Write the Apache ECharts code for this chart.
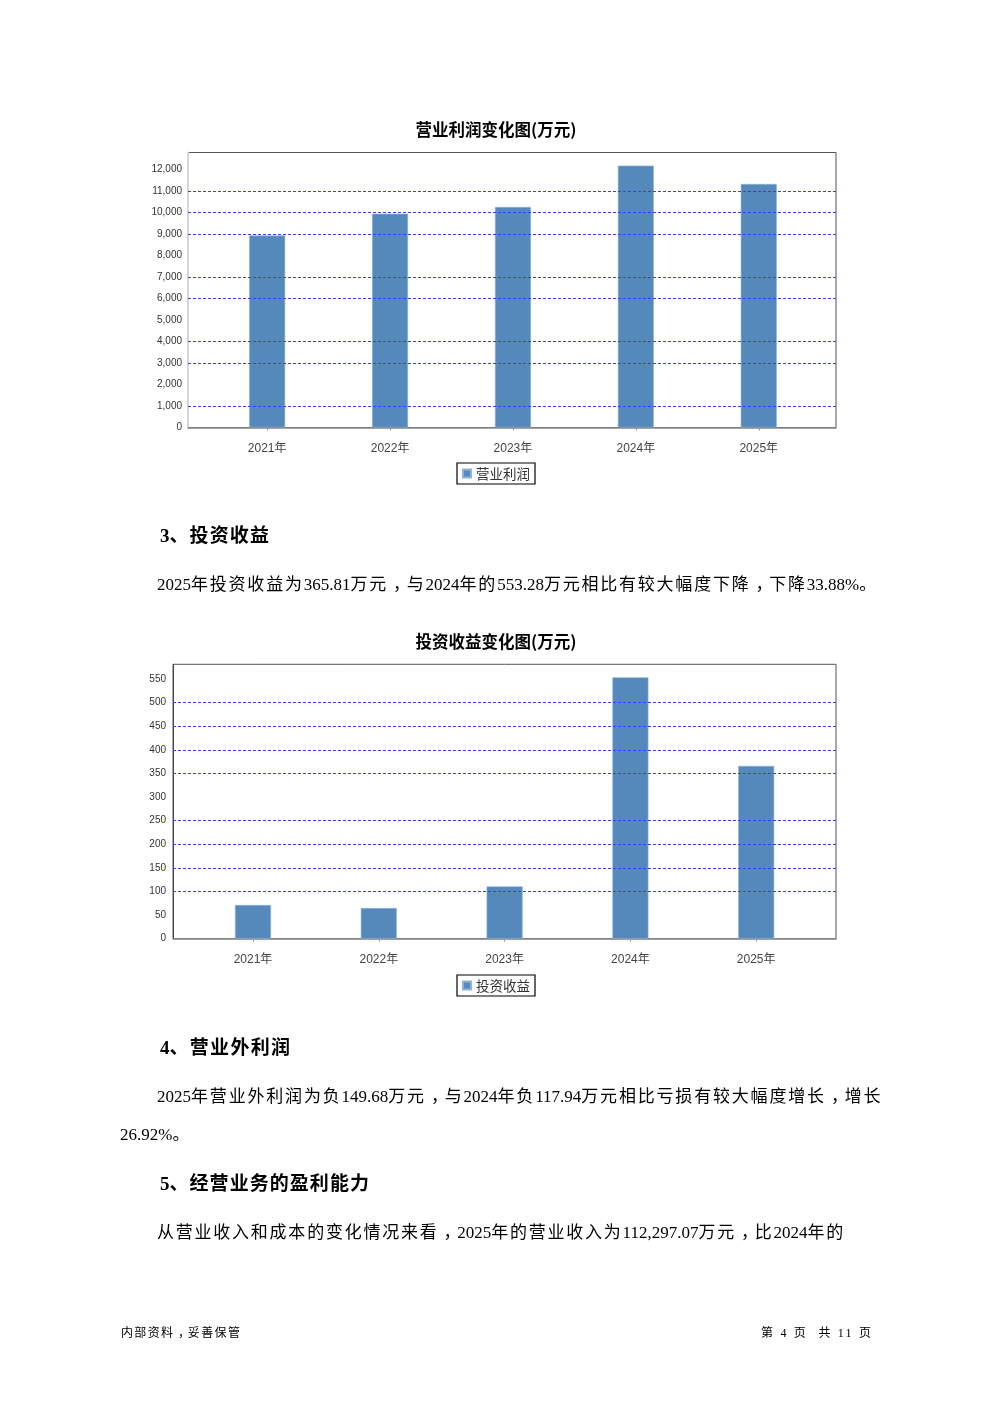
<!DOCTYPE html>
<html>
<head>
<meta charset="utf-8">
<script src="https://cdn.jsdelivr.net/npm/echarts@6/dist/echarts.min.js"></script>
<style>
html,body{margin:0;padding:0;background:#fff;}
#page{position:relative;width:992px;height:1403px;overflow:hidden;background:#fff;}
#chart{position:absolute;left:0;top:0;width:992px;height:1403px;}
.t{position:absolute;white-space:nowrap;color:#000;font-family:"Liberation Serif","Noto Sans CJK SC",serif;line-height:24px;height:24px;}
.p{font-size:17px;}
.h{font-size:19px;font-weight:bold;}
.f{font-size:12px;line-height:16px;height:16px;}
.cm{display:inline-block;transform:translateX(0.3em);}
</style>
</head>
<body>
<div id="page">
<div id="chart"></div>
<div class="t h" data-l="160" data-r="269" data-cy="536">3、投资收益</div>
<div class="t p" data-l="157" data-r="876" data-cy="585">2025年投资收益为365.81万元，与2024年的553.28万元相比有较大幅度下降，下降33.88%。</div>
<div class="t h" data-l="160" data-r="290" data-cy="1048">4、营业外利润</div>
<div class="t p" data-l="157" data-r="880" data-cy="1097">2025年营业外利润为负149.68万元，与2024年负117.94万元相比亏损有较大幅度增长，增长</div>
<div class="t p" data-l="120" data-r="188" data-cy="1135">26.92%。</div>
<div class="t h" data-l="160" data-r="369" data-cy="1184">5、经营业务的盈利能力</div>
<div class="t p" data-l="157" data-r="843" data-cy="1233">从营业收入和成本的变化情况来看，2025年的营业收入为112,297.07万元，比2024年的</div>
<div class="t f" data-l="121" data-r="240" data-cy="1333">内部资料，妥善保管</div>
<div class="t f" data-even="1" data-l="761" data-r="871" data-cy="1333">第 4 页 &nbsp;共 11 页</div>
</div>
<script>
// ---- data ----
var categories = ['2021年', '2022年', '2023年', '2024年', '2025年'];
var opProfitName = '营业利润';
var opProfit = [8937, 9949, 10261, 12190, 11334];
var opGridVisible = [1000, 3000, 4000, 6000, 7000, 9000, 10000, 11000];
var invIncomeName = '投资收益';
var invIncome = [71.3, 64.9, 110.8, 553.28, 365.81];
var invGridVisible = [100, 150, 200, 250, 350, 400, 450, 500];
var titles = ['营业利润变化图(万元)', '投资收益变化图(万元)'];

// ---- text layout: split into CJK chars and Latin runs, spread extra space over CJK chars ----
function splitRuns(el) {
  if (el.dataset.even) return;
  var txt = el.textContent;
  el.textContent = '';
  var chars = Array.from(txt);
  var buf = '';
  function flush() {
    if (buf) { var s = document.createElement('span'); s.className = 'lat'; s.textContent = buf; el.appendChild(s); buf = ''; }
  }
  chars.forEach(function (ch) {
    if (ch.charCodeAt(0) >= 0x2E80) {
      flush();
      var s = document.createElement('span');
      s.className = 'cjk' + (ch === '，' ? ' cm' : '');
      s.textContent = ch;
      el.appendChild(s);
    } else {
      buf += ch;
    }
  });
  flush();
}
function fitText() {
  document.querySelectorAll('.t').forEach(function (el) {
    var l = +el.dataset.l, r = +el.dataset.r, cy = +el.dataset.cy;
    el.style.left = l + 'px';
    var h = el.getBoundingClientRect().height;
    el.style.top = (cy - h / 2) + 'px';
    if (el.dataset.even) {
      el.style.letterSpacing = '0px';
      var w0 = el.getBoundingClientRect().width;
      var n = Array.from(el.textContent).length;
      if (n > 1) el.style.letterSpacing = ((r - l - w0) / (n - 1)) + 'px';
      return;
    }
    var cjk = Array.from(el.querySelectorAll('.cjk'));
    cjk.forEach(function (s) { s.style.letterSpacing = '0px'; });
    var w = el.getBoundingClientRect().width;
    var spread = cjk.filter(function (s) { return s !== el.lastChild; });
    if (spread.length) {
      var ls = (r - l - w) / spread.length;
      spread.forEach(function (s) { s.style.letterSpacing = ls + 'px'; });
    }
  });
}
document.querySelectorAll('.t').forEach(splitRuns);
fitText();
if (document.fonts && document.fonts.ready) document.fonts.ready.then(fitText);

// ---- chart ----
var chart = echarts.init(document.getElementById('chart'), null, {renderer: 'canvas'});
var barColor = '#5589BC';
var gridColor = '#3b3bff';
var labelFont = '"Liberation Sans", "Noto Sans CJK SC", sans-serif';

var c1 = {frameL: 188, frameW: 648, top: 152.5, h: 275, barL: 205.7, barW: 614.5};
var c2 = {frameL: 173, frameW: 663, top: 664.3, h: 274.4, barL: 190.1, barW: 629};

function makeCoords(c, idx, maxV, interval, leftLine, labelMargin) {
  var grids = [
    {left: c.frameL, top: c.top, width: c.frameW, height: c.h, show: true, borderColor: '#555', borderWidth: 1, backgroundColor: 'transparent'},
    {left: c.barL, top: c.top, width: c.barW, height: c.h, show: false}
  ];
  var xAxes = [
    {gridIndex: idx * 2, type: 'category', data: categories, position: 'bottom', offset: 9,
     axisLine: {show: true, lineStyle: {color: '#8a8a8a', width: 1.5}}, axisTick: {show: false}, axisLabel: {show: false}, splitLine: {show: false}},
    {gridIndex: idx * 2 + 1, type: 'category', data: categories, position: 'bottom', offset: 9,
     axisLine: {show: false}, axisTick: {show: true, alignWithLabel: true, length: 3, lineStyle: {color: '#999'}},
     axisLabel: {show: true, margin: 6, color: '#444', fontSize: 12, fontFamily: labelFont}, splitLine: {show: false}}
  ];
  var yAxes = [
    {gridIndex: idx * 2, type: 'value', min: 0, max: maxV, interval: interval,
     axisLine: {show: true, lineStyle: leftLine}, axisTick: {show: false},
     axisLabel: {show: true, showMaxLabel: false, margin: labelMargin, color: '#333', fontSize: 10, fontFamily: labelFont,
       formatter: function (v) { return v.toLocaleString('en-US'); }},
     splitLine: {show: false}},
    {gridIndex: idx * 2 + 1, type: 'value', min: 0, max: maxV, show: false, splitLine: {show: false}}
  ];
  return {grids: grids, xAxes: xAxes, yAxes: yAxes};
}

var op1 = makeCoords(c1, 0, Math.max.apply(null, opProfit) * 1.05, 1000, {color: '#d6d6d6', width: 2}, 6);
var op2 = makeCoords(c2, 1, Math.max.apply(null, invIncome) * 1.05, 50, {color: '#444', width: 1}, 7);

function gridLines(xi, yi, vals) {
  return {
    type: 'line', xAxisIndex: xi, yAxisIndex: yi, data: categories.map(function () { return null; }),
    silent: true, z: 1, symbol: 'none', lineStyle: {opacity: 0},
    markLine: {silent: true, symbol: ['none', 'none'], label: {show: false}, animation: false,
      lineStyle: {color: gridColor, type: [3, 2], width: 1},
      data: vals.map(function (v) { return {yAxis: v}; })}
  };
}

function bars(name, xi, yi, vals) {
  return {
    name: name, type: 'bar', xAxisIndex: xi, yAxisIndex: yi, data: vals, barWidth: 36, z: 3,
    itemStyle: {color: barColor, borderColor: '#8fb3d6', borderWidth: 0.6},
    animation: false
  };
}

var legendCommon = {
  orient: 'horizontal', icon: 'rect', itemWidth: 8, itemHeight: 8, itemGap: 4,
  borderColor: '#000', borderWidth: 1.2, padding: [3, 5], backgroundColor: '#fff',
  textStyle: {fontSize: 13.5, color: '#333', lineHeight: 15, fontFamily: '"Noto Sans CJK SC", sans-serif', padding: [0, 0, 0, 0]},
  selectedMode: false
};

var titleStyle = {fontSize: 16.5, fontWeight: 'bold', color: '#000', fontFamily: '"Noto Sans CJK SC", sans-serif'};

var option = {
  animation: false,
  backgroundColor: 'transparent',
  title: [
    {text: titles[0], left: 'center', top: 121, padding: 0, textStyle: titleStyle},
    {text: titles[1], left: 'center', top: 633, padding: 0, textStyle: titleStyle}
  ],
  legend: [
    Object.assign({}, legendCommon, {data: [opProfitName], left: 457, top: 463}),
    Object.assign({}, legendCommon, {data: [invIncomeName], left: 457, top: 975})
  ],
  grid: op1.grids.concat(op2.grids),
  xAxis: op1.xAxes.concat(op2.xAxes),
  yAxis: op1.yAxes.concat(op2.yAxes),
  series: [
    gridLines(0, 0, opGridVisible),
    bars(opProfitName, 1, 1, opProfit),
    gridLines(2, 2, invGridVisible),
    bars(invIncomeName, 3, 3, invIncome)
  ]
};
chart.setOption(option);
</script>
</body>
</html>
